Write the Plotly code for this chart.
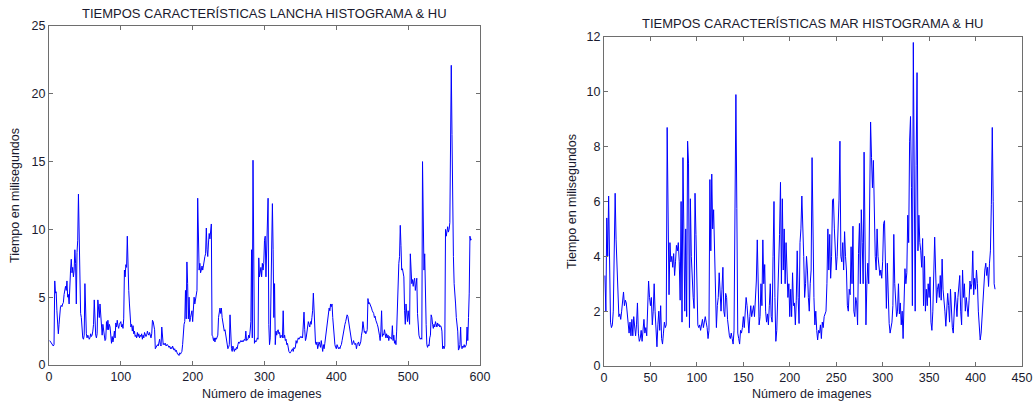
import plotly.graph_objects as go

# Left chart: "LANCHA" times (ms) per image
lancha_ms = [
    1.8, 1.7, 1.6, 1.5, 1.4, 1.4, 1.5,
    6.2, 5.3, 5.4, 4.0, 2.8, 2.3,
    3.0, 3.8, 4.3, 4.4, 4.3, 4.5, 4.6,
    5.2, 5.6, 5.8, 5.5, 6.2, 5.0, 5.2, 4.5,
    6.5, 7.0, 7.8, 6.8, 7.2, 6.5, 7.0,
    8.5, 7.5, 4.5, 8.3, 9.2,
    12.6,
    8.2, 7.9, 3.8, 3.5, 2.5, 2.0, 1.9, 2.2,
    6.0, 3.5, 2.3,
    2.0, 2.2, 2.1, 1.9, 2.0, 2.3, 2.1, 2.2,
    2.5, 3.0, 4.8, 3.0, 2.2, 2.0, 2.3,
    4.8, 4.3, 3.5, 4.5, 3.6, 2.9, 2.2,
    3.0, 2.5, 2.0, 1.8, 1.9,
    3.2, 2.6, 3.3, 2.6, 3.0, 2.8, 2.2,
    1.6, 2.1, 1.7, 2.0, 2.5,
    2.0, 3.1, 2.8, 3.3, 2.9, 2.7, 3.0, 3.2,
    3.2, 2.8, 3.0, 2.7, 3.4,
    7.0, 6.5, 7.4, 7.2, 9.5,
    6.0, 5.5, 4.5, 3.5, 2.8, 3.0, 2.5, 2.9,
    2.3, 2.5, 2.1, 2.2, 2.0, 2.4, 2.1, 2.3, 2.0, 2.2, 2.1,
    2.3, 1.9, 2.2, 2.0, 2.4, 2.3, 2.1, 2.2, 2.5, 2.3, 2.2, 2.4, 2.1, 2.0, 2.3,
    3.3, 3.2, 3.0, 2.6, 1.2,
    1.3, 1.4, 1.5, 1.4, 1.6, 1.9, 1.5, 1.4,
    2.8, 2.2,
    1.5, 1.6, 1.5, 1.6, 1.4, 1.5, 1.5,
    1.4, 1.3, 1.4, 1.2, 1.3, 1.2, 1.4, 1.3, 1.1, 1.2, 1.0, 1.1,
    0.9, 0.8, 0.8, 0.7, 0.9, 0.8, 0.9, 1.0, 1.5,
    2.5, 3.0, 3.2, 5.5, 3.4, 7.6,
    6.0, 3.4, 5.0, 3.2, 3.5, 3.8, 4.0, 3.2, 4.1,
    5.0, 4.5, 5.0, 5.5, 5.5, 12.3,
    8.7, 7.0, 7.5, 6.8, 7.0, 7.3, 7.0, 7.5, 7.6, 8.0, 8.2,
    10.1, 8.5, 8.0, 9.0, 9.7, 9.3, 10.0, 10.4,
    2.2, 2.1, 1.8, 2.0, 1.7, 2.0, 1.9,
    2.0, 2.2, 3.5, 4.0, 4.2, 3.8, 4.2,
    3.5, 3.2, 3.0, 2.5, 2.6, 2.2,
    2.0, 1.6, 1.2, 1.3, 1.5,
    3.7,
    1.3, 1.2, 1.0, 1.4, 1.2, 1.0, 1.2, 1.1, 1.3, 1.2,
    1.5, 1.7, 1.6, 1.7, 1.8, 1.7, 1.8, 1.7, 1.8, 1.9, 1.8,
    2.5,
    1.8, 1.9, 1.9, 2.2, 2.0, 2.5, 3.2,
    8.5, 2.0, 15.1,
    8.0, 1.6, 1.8, 1.7, 1.8, 2.0, 1.9,
    7.9, 6.5, 6.8, 7.2, 6.5, 7.5, 7.0, 7.5, 9.2, 9.5,
    6.5, 8.0, 10.0,
    12.3,
    3.0, 1.5, 2.0, 7.0, 8.6,
    11.9,
    8.5, 3.5, 6.0, 1.5, 2.5,
    2.2, 2.5, 2.6, 2.3, 2.4,
    2.0, 2.2, 2.1, 2.0, 4.0, 2.0,
    2.2, 1.8, 1.9, 1.5, 1.6,
    1.1, 1.0, 0.9, 0.9,
    1.0, 1.1, 1.2, 1.0, 1.3, 1.2, 1.3,
    1.8, 1.6, 1.8, 2.0, 1.9, 2.0, 2.1,
    2.0, 2.1, 2.0,
    3.1, 3.9, 2.6, 1.8,
    2.0, 2.5, 3.0, 3.2, 3.0, 2.8,
    3.2, 3.0, 3.5, 4.0, 5.3, 3.5,
    2.5, 1.6, 1.5, 1.7,
    1.2, 1.6, 1.7, 1.5, 1.3,
    1.8, 1.5, 1.0, 1.5, 1.2, 1.6, 2.0,
    2.5, 3.0, 3.5, 4.0, 4.2, 4.0, 4.5, 4.3, 4.5,
    3.5, 2.5, 1.8, 1.5, 1.3,
    1.2, 1.5, 1.2, 1.2, 1.3, 1.2, 1.4, 1.5, 1.8,
    2.2, 2.5, 2.8, 3.0, 3.2,
    3.5, 3.7, 3.6, 3.3, 3.0,
    2.5, 2.2, 2.0, 1.5,
    1.6, 1.8, 1.6, 1.5, 1.6,
    1.2, 1.5, 1.6, 1.7, 1.4, 1.5, 1.7,
    2.2, 2.5, 3.2, 2.5,
    2.4, 2.5, 2.3, 2.4, 2.6,
    4.9, 4.5, 4.6, 4.5, 4.3, 4.2, 4.0, 3.9,
    3.8, 3.5, 3.6, 3.3, 3.2, 3.0, 2.8, 2.6, 2.2,
    1.8, 2.5, 4.0,
    2.1, 2.3, 2.2, 2.6, 2.1, 2.0, 2.3, 2.0, 2.2, 1.8, 2.1, 2.0, 1.9,
    1.9, 2.9, 1.8, 2.2, 1.6, 1.8, 1.5, 2.5,
    5.0, 6.0, 7.5, 8.0,
    10.3,
    8.8, 7.0, 7.1, 6.8, 6.5,
    4.0, 3.0, 4.5, 3.5, 3.2, 4.0, 3.5, 3.0,
    8.2,
    6.4, 6.0, 6.3, 5.8, 6.2, 6.4, 5.5, 6.0, 6.4,
    3.8, 2.5, 2.2, 2.0, 1.9, 2.0, 1.9,
    15.0,
    9.1, 7.0, 8.2, 4.0, 3.0, 1.5,
    1.3, 1.5, 1.4, 2.0, 2.2,
    3.7, 3.5, 3.0, 2.7,
    3.0, 2.8, 3.2, 2.9, 2.8, 3.1, 2.9, 3.0, 2.8, 2.9, 2.8,
    2.5, 1.2, 1.4, 1.2, 1.4,
    10.0, 9.5, 9.8, 10.2, 9.8, 10.0, 10.5,
    16.7, 22.1, 17.0, 10.0, 8.0,
    6.0, 5.5, 4.5, 3.5, 3.0, 2.5,
    1.1, 1.2, 1.5, 2.8, 1.3,
    1.2, 1.4, 1.3, 1.5, 1.3, 1.4, 1.5, 2.8,
    1.8, 3.5, 5.3, 9.5, 9.2, 9.3,
]

# Right chart: "MAR" times (ms) per image
mar_ms = [
    3.3, 2.0, 5.4, 4.0, 6.2, 4.0, 1.6, 1.4, 1.5, 2.0,
    4.3, 6.3, 4.6, 3.5, 2.3, 1.8, 1.9, 1.7, 2.0, 2.5,
    2.7, 2.2, 2.4, 2.3, 1.8, 1.5, 1.2, 1.6, 1.1, 1.7,
    1.1, 1.8, 1.3, 1.1, 1.5, 2.3, 1.2, 0.9, 1.0, 1.3,
    0.9, 1.5, 1.7, 1.2, 1.4, 1.1, 2.5, 3.1, 2.5, 2.2,
    2.5, 1.5, 2.0, 3.0, 2.0, 1.4, 0.7, 1.5, 2.0, 1.3,
    2.2, 1.0, 0.8, 1.2, 1.6, 1.4, 1.5, 8.7, 5.6, 2.6,
    4.5, 3.8, 4.0, 3.6, 4.1, 3.3, 3.8, 4.4, 4.2, 4.5,
    3.8, 2.4, 6.0, 1.6, 7.6, 4.0, 2.0, 5.0, 1.8, 8.2,
    7.4, 1.4, 6.1, 4.0, 3.0, 2.5, 2.1, 6.3, 4.8, 3.0,
    1.5, 1.4, 1.5, 1.3, 1.5, 1.7, 1.4, 1.6, 1.8, 1.6,
    1.4, 1.0, 1.3, 6.8, 4.2, 7.0, 5.0, 5.7, 4.0, 2.5,
    1.4, 2.2, 2.5, 3.4, 2.5, 2.0, 2.8, 3.6, 2.0, 1.8,
    2.65, 2.5, 1.7, 1.3, 1.1, 1.0, 1.2, 1.0, 0.8, 1.3,
    5.3, 9.9, 5.75, 1.2, 1.0, 0.8, 1.3, 1.2, 1.4, 1.8,
    1.4, 2.0, 2.5, 2.2, 1.6, 1.2, 1.8, 2.2, 1.8, 2.0,
    2.2, 1.8, 2.4, 3.1, 4.6, 2.0, 1.5, 1.8, 3.0, 2.2,
    4.6, 3.0, 3.7, 2.0, 1.6, 1.9, 1.5, 2.2, 3.0, 1.8,
    1.6, 4.0, 6.0, 2.5, 0.9, 1.3, 2.5, 3.0, 4.8, 6.7,
    3.0, 6.1, 3.5, 5.0, 3.0, 4.5, 3.2, 2.5, 3.0, 1.8,
    2.8, 1.8, 3.4, 2.2, 2.3, 1.5, 2.4, 4.2, 2.5, 1.55,
    4.5, 5.0, 6.2, 5.3, 4.0, 2.5, 3.0, 4.0, 3.5, 2.5,
    2.0, 3.0, 3.5, 7.6, 4.5, 2.5, 1.5, 2.0, 1.3, 0.95,
    1.3, 1.2, 1.5, 1.0, 1.6, 1.4, 1.8, 1.9, 2.0, 3.0,
    5.0, 3.5, 4.8, 3.2, 4.0, 6.05, 6.1, 5.0, 4.0, 3.5,
    4.0, 4.8, 6.05, 8.2, 4.0, 3.8, 4.5, 3.5, 4.9, 4.0,
    3.5, 2.2, 2.0, 2.8, 2.6, 4.35, 3.0, 5.1, 2.0, 1.8,
    2.5, 2.3, 1.5, 4.1, 5.2, 3.0, 5.7, 4.5, 3.0, 7.8,
    3.0, 1.5, 3.0, 3.75, 3.0, 6.5, 8.9, 7.6, 6.5, 7.5,
    5.5, 4.0, 3.5, 5.0, 4.0, 3.5, 3.3, 3.5, 3.2, 3.8,
    5.2, 5.3, 4.0, 2.1, 3.75, 2.5, 1.55, 1.2, 1.5, 1.6,
    2.2, 4.8, 3.0, 2.5, 1.8, 2.0, 3.0, 1.9, 2.3, 1.5,
    2.0, 1.0, 2.8, 3.55, 3.0, 3.4, 5.5, 4.5, 8.2, 9.1,
    6.5, 2.2, 11.8, 7.0, 2.0, 7.3, 10.7, 4.2, 5.5, 4.5,
    4.2, 3.6, 4.65, 2.2, 4.0, 2.0, 2.8, 2.2, 3.0, 2.5,
    3.25, 1.6, 1.3, 2.0, 3.2, 4.7, 3.5, 2.3, 2.8, 3.0,
    2.5, 3.3, 2.4, 3.9, 2.8, 2.5, 2.0, 1.45, 2.0, 2.65,
    2.2, 1.6, 2.8, 2.0, 1.4, 1.2, 2.0, 2.7, 2.3, 1.8,
    2.5, 3.0, 3.3, 2.0, 1.5, 3.5, 2.5, 3.0, 2.0, 2.5,
    2.2, 1.8, 2.4, 3.1, 2.8, 3.0, 4.2, 2.6, 3.2, 2.8,
    3.5, 3.0, 2.0, 1.2, 0.95, 1.2, 1.8, 2.5, 3.0, 3.5,
    3.75, 3.3, 3.6, 2.9, 3.75, 4.2, 5.9, 8.7, 6.0, 3.0,
    2.8,
]

left_title = "TIEMPOS CARACTERÍSTICAS LANCHA HISTOGRAMA & HU"
right_title = "TIEMPOS CARACTERÍSTICAS MAR HISTOGRAMA & HU"
x_label = "Número de imagenes"
y_label = "Tiempo en milisegundos"
left_xticks = [0, 100, 200, 300, 400, 500, 600]
left_yticks = [0, 5, 10, 15, 20, 25]
right_xticks = [0, 50, 100, 150, 200, 250, 300, 350, 400, 450]
right_yticks = [0, 2, 4, 6, 8, 10, 12]

W, H = 1035, 404
FONT = "Liberation Sans, Arial, sans-serif"
TXT = "#1a1a2e"
AX = "#6e6e6e"

fig = go.Figure()
fig.add_trace(go.Scatter(x=list(range(1, len(lancha_ms) + 1)), y=lancha_ms,
                         mode="lines", line=dict(color="#0000ff", width=1),
                         xaxis="x", yaxis="y", showlegend=False, hoverinfo="skip"))
fig.add_trace(go.Scatter(x=list(range(1, len(mar_ms) + 1)), y=mar_ms,
                         mode="lines", line=dict(color="#0000ff", width=1),
                         xaxis="x2", yaxis="y2", showlegend=False, hoverinfo="skip"))

def px_x(p):
    return p / W

def px_y(p):
    return 1 - p / H

axis_common = dict(showgrid=False, zeroline=False, showline=True, linecolor=AX,
                   linewidth=1, mirror="ticks", ticks="inside", ticklen=4,
                   tickcolor=AX, automargin=False,
                   tickfont=dict(family=FONT, size=12.5, color=TXT))

fig.update_layout(
    width=W, height=H,
    margin=dict(l=0, r=0, t=0, b=0, pad=0, autoexpand=False),
    paper_bgcolor="white", plot_bgcolor="white",
    xaxis=dict(domain=[px_x(49), px_x(480)], range=[0, 600], tickvals=left_xticks,
               anchor="y", **axis_common),
    yaxis=dict(domain=[px_y(365), px_y(26)], range=[0, 25], tickvals=left_yticks,
               anchor="x", **axis_common),
    xaxis2=dict(domain=[px_x(604), px_x(1022)], range=[0, 450], tickvals=right_xticks,
                anchor="y2", **axis_common),
    yaxis2=dict(domain=[px_y(366), px_y(37)], range=[0, 12], tickvals=right_yticks,
                anchor="x2", **axis_common),
)

def ann(text, x, y, angle=0, size=12.5):
    fig.add_annotation(text=text, x=px_x(x), y=px_y(y), xref="paper", yref="paper",
                       showarrow=False, textangle=angle, xanchor="center", yanchor="middle",
                       font=dict(family=FONT, size=size, color=TXT))

ann(left_title, 264, 13, size=13)
ann(right_title, 812, 23, size=13)
ann(x_label, 262, 394)
ann(x_label, 812, 394)
ann(y_label, 15, 196, -90)
ann(y_label, 572, 202, -90)

fig.write_html(
    "out.html",
    config={"displayModeBar": False},
    post_script="document.body.style.margin='0';document.body.style.overflow='hidden';",
)
